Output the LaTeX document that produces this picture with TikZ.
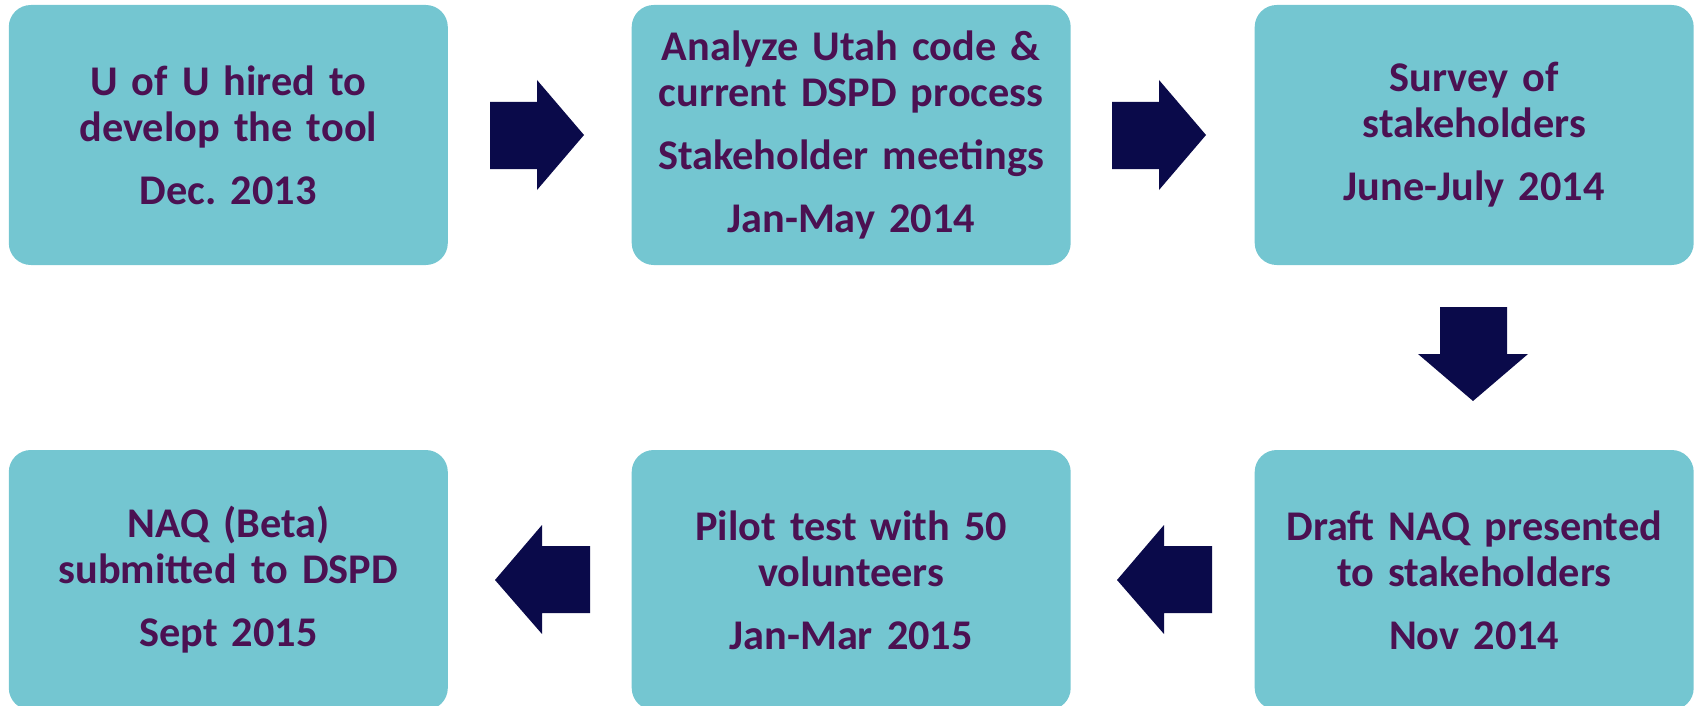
\documentclass[tikz,border=0pt]{standalone}
\usepackage{fontspec}
\setmainfont{Carlito}
\frenchspacing
\definecolor{boxfill}{HTML}{74C6D1}
\definecolor{txt}{HTML}{4B1152}
\definecolor{arrowc}{HTML}{0A0A4A}
\tikzset{
  stepbox/.style={fill=boxfill, draw=none, rounded corners=22pt, minimum width=439pt, minimum height=260pt, inner sep=0pt,
    text=txt, align=center, text width=430pt, font=\fontsize{42.3}{46}\selectfont\bfseries},
  blockarrow/.style={fill=arrowc, draw=none}
}
\begin{document}
\begin{tikzpicture}[x=1pt,y=-1pt]
\useasboundingbox (0,0) rectangle (1696,706);
\clip (0,0) rectangle (1696,706);
\node[stepbox] (b1) at (228.3,135) {U of U hired to\\develop the tool\\[17pt]Dec. 2013};
\node[stepbox] (b2) at (851.2,135) {Analyze Utah code \&\\current DSPD process\\[17pt]Stakeholder meetings\\[17pt]Jan-May 2014};
\node[stepbox] (b3) at (1474.2,135) {Survey of\\stakeholders\\[17pt]June-July 2014};
\node[stepbox] (b4) at (1474.2,580) {Draft NAQ presented\\to stakeholders\\[17pt]Nov 2014};
\node[stepbox] (b5) at (851.2,580) {Pilot test with 50\\volunteers\\[17pt]Jan-Mar 2015};
\node[stepbox] (b6) at (228.3,580) {NAQ (Beta)\\submitted to DSPD\\[17pt]Sept 2015};
% right arrows
\fill[blockarrow] (490,102) -- (537,102) -- (537,80) -- (584,135) -- (537,190) -- (537,169) -- (490,169) -- cycle;
\fill[blockarrow] (1112,102) -- (1159,102) -- (1159,80) -- (1206,135) -- (1159,190) -- (1159,169) -- (1112,169) -- cycle;
% down arrow
\fill[blockarrow] (1440,307) -- (1507,307) -- (1507,354) -- (1528,354) -- (1473,401) -- (1418,354) -- (1440,354) -- cycle;
% left arrows
\fill[blockarrow] (590,546) -- (542,546) -- (542,525) -- (495,580) -- (542,634) -- (542,613) -- (590,613) -- cycle;
\fill[blockarrow] (1212,546) -- (1164,546) -- (1164,525) -- (1117,580) -- (1164,634) -- (1164,613) -- (1212,613) -- cycle;
\end{tikzpicture}
\end{document}
